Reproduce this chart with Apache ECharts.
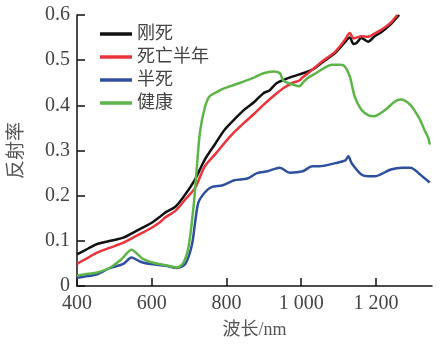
<!DOCTYPE html>
<html>
<head>
<meta charset="utf-8">
<script src="https://cdn.jsdelivr.net/npm/echarts@6/dist/echarts.min.js"></script>
<style>html,body{margin:0;padding:0;background:#fff;}#c{width:445px;height:344px;}</style>
</head>
<body>
<div id="c"></div>
<script>
var seriesNames = ['刚死', '死亡半年', '半死', '健康'];
var seriesColors = ['#111111', '#e8343a', '#2f4f9f', '#5db548'];
var xTicks = [400, 600, 800, 1000, 1200];
var xTickLabels = ['400', '600', '800', '1 000', '1 200'];
var yTicks = [0, 0.1, 0.2, 0.3, 0.4, 0.5, 0.6];
var yTickLabels = ['0', '0.1', '0.2', '0.3', '0.4', '0.5', '0.6'];

var justDead = [
  [400,0.070],[430,0.083],[454,0.093],[489,0.100],[524,0.107],[559,0.122],[580,0.131],[600,0.140],
  [620,0.152],[637,0.163],[664,0.176],[690,0.203],[716,0.236],[742,0.280],[770,0.315],[795,0.346],
  [820,0.368],[847,0.390],[875,0.408],[899,0.427],[915,0.433],[934,0.449],[955,0.457],[978,0.464],
  [1004,0.471],[1030,0.479],[1056,0.495],[1091,0.516],[1117,0.540],[1130,0.550],[1140,0.536],
  [1148,0.538],[1161,0.549],[1179,0.541],[1195,0.552],[1214,0.562],[1240,0.580],[1262,0.600]
];
var deadHalfYear = [
  [400,0.049],[430,0.063],[454,0.074],[489,0.085],[524,0.096],[559,0.111],[580,0.120],[600,0.129],
  [620,0.140],[637,0.152],[664,0.167],[690,0.192],[716,0.217],[742,0.265],[770,0.292],[795,0.317],
  [820,0.340],[847,0.361],[875,0.382],[899,0.401],[925,0.420],[952,0.438],[978,0.450],[995,0.455],
  [1004,0.462],[1030,0.479],[1056,0.497],[1091,0.519],[1117,0.545],[1130,0.560],[1140,0.548],
  [1148,0.550],[1161,0.553],[1179,0.552],[1195,0.558],[1214,0.567],[1240,0.583],[1257,0.600]
];
var halfDead = [
  [400,0.018],[430,0.022],[454,0.026],[489,0.040],[524,0.049],[546,0.063],[560,0.058],[576,0.052],
  [602,0.048],[637,0.045],[668,0.040],[690,0.049],[707,0.089],[716,0.140],[725,0.185],[742,0.207],
  [760,0.219],[790,0.223],[821,0.234],[856,0.238],[882,0.250],[910,0.254],[943,0.262],[969,0.251],
  [1004,0.254],[1030,0.265],[1048,0.265],[1091,0.272],[1118,0.278],[1126,0.287],[1135,0.272],
  [1161,0.247],[1180,0.243],[1196,0.243],[1240,0.258],[1270,0.262],[1292,0.262],[1318,0.247],[1344,0.229]
];
var healthy = [
  [400,0.023],[430,0.027],[454,0.030],[489,0.041],[520,0.060],[546,0.080],[560,0.072],[576,0.060],
  [602,0.052],[637,0.046],[668,0.041],[685,0.052],[699,0.089],[712,0.177],[720,0.255],[729,0.340],
  [742,0.395],[755,0.420],[775,0.430],[795,0.438],[820,0.445],[847,0.453],[875,0.462],[899,0.471],
  [925,0.475],[943,0.471],[952,0.455],[978,0.446],[995,0.442],[1004,0.450],[1020,0.462],[1039,0.471],
  [1060,0.482],[1082,0.490],[1105,0.490],[1117,0.486],[1130,0.464],[1143,0.420],[1161,0.390],
  [1180,0.378],[1196,0.376],[1215,0.384],[1231,0.394],[1250,0.408],[1266,0.413],[1292,0.401],
  [1318,0.368],[1330,0.345],[1340,0.328],[1344,0.313]
];
var seriesData = [justDead, deadHalfYear, halfDead, healthy];

var latin = "'Liberation Serif', 'Noto Sans CJK SC', serif";
var chart = echarts.init(document.getElementById('c'), null, {renderer: 'canvas'});
chart.setOption({
  animation: false,
  backgroundColor: '#ffffff',
  grid: {left: 69, right: 13, top: 15, bottom: 57, containLabel: false},
  legend: {
    orient: 'vertical', left: 95, top: 19, itemWidth: 32, itemHeight: 3.5, itemGap: 3,
    icon: 'rect',
    data: seriesNames,
    textStyle: {fontFamily: latin, fontSize: 18, color: '#444', lineHeight: 20}
  },
  xAxis: {
    type: 'value', min: 400, max: 1350, interval: 200,
    name: '波长/nm', nameLocation: 'middle', nameGap: 35,
    nameTextStyle: {fontFamily: latin, fontSize: 18, color: '#555'},
    axisLine: {lineStyle: {color: '#111', width: 1.5}},
    axisTick: {inside: true, length: 8, lineStyle: {color: '#111', width: 1.5}, customValues: xTicks},
    axisLabel: {
      customValues: xTicks, margin: 8, fontFamily: latin, fontSize: 20, color: '#444',
      formatter: function (v) { var i = xTicks.indexOf(v); return i >= 0 ? xTickLabels[i] : ''; }
    },
    splitLine: {show: false}
  },
  yAxis: {
    type: 'value', min: 0, max: 0.6, interval: 0.1,
    name: '反射率', nameLocation: 'middle', nameGap: 50, nameRotate: 90,
    nameTextStyle: {fontFamily: latin, fontSize: 19, color: '#555'},
    axisLine: {show: true, lineStyle: {color: '#111', width: 1.5}},
    axisTick: {show: true, inside: true, length: 8, lineStyle: {color: '#111', width: 1.5}},
    axisLabel: {
      margin: 7, fontFamily: latin, fontSize: 20, color: '#444',
      formatter: function (v) {
        for (var i = 0; i < yTicks.length; i++) { if (Math.abs(yTicks[i] - v) < 1e-9) return yTickLabels[i]; }
        return '';
      }
    },
    splitLine: {show: false}
  },
  series: seriesNames.map(function (n, i) {
    return {
      name: n, type: 'line', data: seriesData[i], showSymbol: false, symbol: 'none',
      smooth: 0.3, clip: true,
      lineStyle: {color: seriesColors[i], width: 2.5},
      itemStyle: {color: seriesColors[i]}
    };
  })
});
</script>
</body>
</html>
